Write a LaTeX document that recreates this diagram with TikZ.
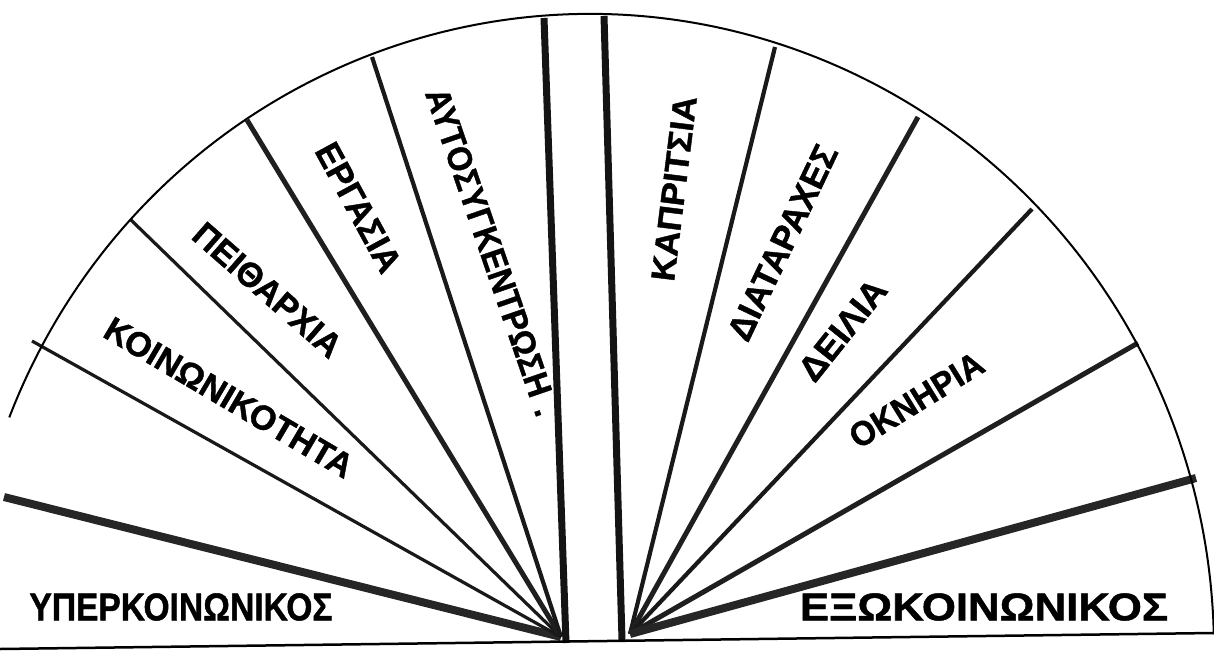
\documentclass[tikz,border=0pt]{standalone}
\usepackage{fontspec}
\setmainfont{Liberation Sans}
\newfontfamily\heavyfont{Liberation Sans Bold}[FakeBold=1.2]
\usepackage{graphicx}
\newcommand{\fitlabel}[3]{\resizebox{#1pt}{#2pt}{#3}}
\tikzset{
  rim/.style={line width=2pt, draw=black},
  baseln/.style={line width=2.5pt, draw=black},
  spokethin/.style={line width=3.2pt, draw=black!90},
  spokemid/.style={line width=4.2pt, draw=black!90},
  spokewide/.style={line width=5pt, draw=black!88},
  strip/.style={line width=7pt, draw=black!92},
  spokeheavy/.style={line width=8pt, draw=black!85},
  lab/.style={inner sep=0pt, font=\heavyfont},
}
\begin{document}
\begin{tikzpicture}[x=1pt,y=-1pt]
\useasboundingbox (0,0) rectangle (1214,655);
% fan centres and outer ends
\coordinate (LC) at (561,637);
\coordinate (RC) at (630,634);
\coordinate (l1) at (4,497);
\coordinate (l2) at (32,341);
\coordinate (l3) at (131,220);
\coordinate (l4) at (247,120);
\coordinate (l5) at (372,57);
\coordinate (s1t) at (544,18);
\coordinate (s1b) at (566,643);
\coordinate (s2t) at (604,16);
\coordinate (s2b) at (622,640);
\coordinate (r2) at (775,47);
\coordinate (r3) at (918,117);
\coordinate (r4) at (1032,209);
\coordinate (r5) at (1138,343);
\coordinate (r6) at (1196,478);
\coordinate (b0) at (0,649);
\coordinate (b1) at (1213,633);
\coordinate (E) at (590,650);
% spokes, left fan
\draw[spokeheavy] (l1) -- (LC);
\draw[spokethin] (l2) -- (LC);
\draw[spokethin] (l3) -- (LC);
\draw[spokewide] (l4) -- (LC);
\draw[spokemid] (l5) -- (LC);
% central strip
\draw[strip] (s1t) -- (s1b);
\draw[strip] (s2t) -- (s2b);
% spokes, right fan
\draw[spokemid] (r2) -- (RC);
\draw[spokewide] (r3) -- (RC);
\draw[spokemid] (r4) -- (RC);
\draw[spokewide] (r5) -- (RC);
\draw[spokeheavy] (r6) -- (RC);
% rim and base
\draw[rim] (E) ++(201.45:624 and 636) arc[start angle=201.45, end angle=358.6, x radius=624, y radius=636];
\draw[baseln] (b0) -- (b1);
% labels
\node[lab] (uper) at (181,607) {\fitlabel{303}{27}{ΥΠΕΡΚΟΙΝΩΝΙΚΟΣ}};
\node[lab] (exo) at (984,607) {\fitlabel{368}{27}{ΕΞΩΚΟΙΝΩΝΙΚΟΣ}};
\node[lab, rotate=-30.5] (koin) at (229,397.5) {\fitlabel{282}{24}{ΚΟΙΝΩΝΙΚΟΤΗΤΑ}};
\node[lab, rotate=-41.2] (peith) at (267.5,290) {\fitlabel{185}{24}{ΠΕΙΘΑΡΧΙΑ}};
\node[lab, rotate=-61.5] (erg) at (358.5,207.5) {\fitlabel{142}{24}{ΕΡΓΑΣΙΑ}};
\node[lab, rotate=-71] (auto) at (492,252) {\fitlabel{344}{24}{ΑΥΤΟΣΥΓΚΕΝΤΡΩΣΗ\kern0.35em.}};
\node[lab, rotate=82.9] (kapr) at (674,188.5) {\fitlabel{186}{23}{ΚΑΠΡΙΤΣΙΑ}};
\node[lab, rotate=64.6] (diat) at (782.5,242.5) {\fitlabel{212}{24}{ΔΙΑΤΑΡΑΧΕΣ}};
\node[lab, rotate=51.4] (deil) at (842.5,330) {\fitlabel{119}{24}{ΔΕΙΛΙΑ}};
\node[lab, rotate=31.7] (okn) at (916.5,400) {\fitlabel{151}{24}{ΟΚΝΗΡΙΑ}};
\end{tikzpicture}
\end{document}
